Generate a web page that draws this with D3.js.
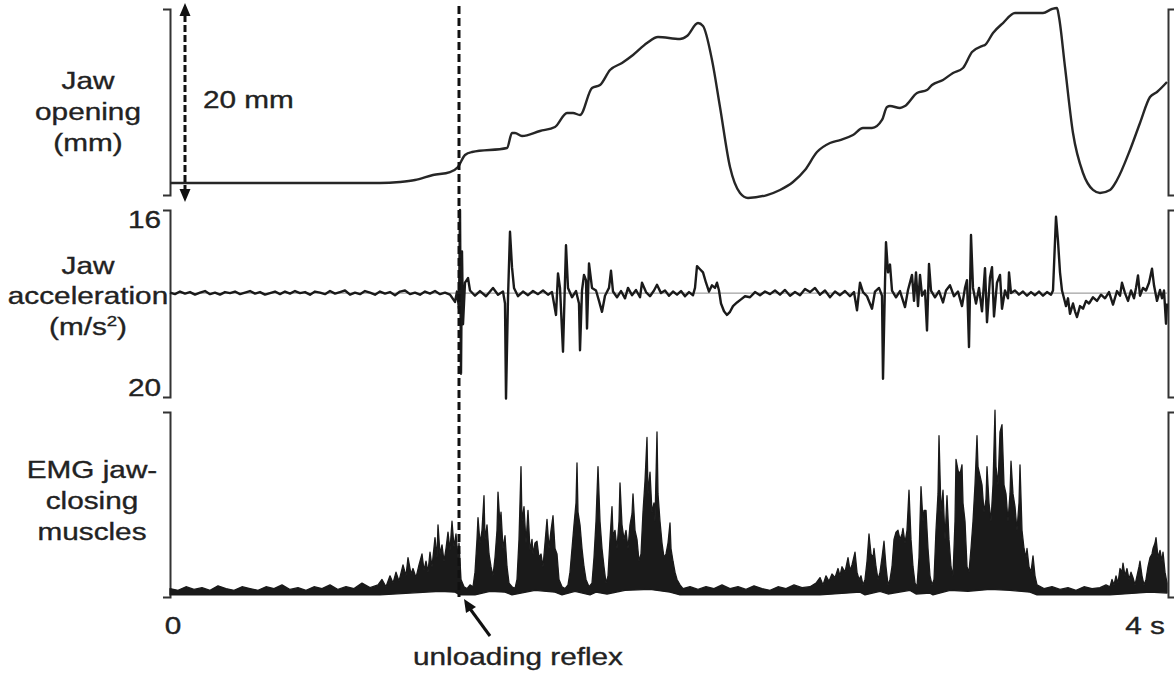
<!DOCTYPE html>
<html>
<head>
<meta charset="utf-8">
<script src="https://cdn.jsdelivr.net/npm/d3@7/dist/d3.min.js"></script>
<style>
  html, body { margin: 0; background: #fff; }
  svg { display: block; }
  text { font-family: "Liberation Sans", Arial, Helvetica, sans-serif; font-size: 24px; fill: #222; stroke: #222; stroke-width: 0.35px; }
</style>
</head>
<body>
<svg id="chart" width="1174" height="675"></svg>
<script>
// jaw opening trace: [time (s), opening (mm)]
const jawOpening = [
  [0, 1.74], [0.84, 1.74], [0.92, 1.85], [0.98, 2.05], [1.052, 2.56], [1.12, 2.87], [1.152, 3.38],
  [1.18, 4.62], [1.208, 4.92], [1.348, 5.33], [1.368, 6.87], [1.38, 6.87], [1.408, 6.56], [1.48, 7.08],
  [1.54, 7.49], [1.588, 8.92], [1.612, 8.92], [1.64, 8.72], [1.688, 11.49], [1.72, 11.79], [1.76, 13.33],
  [1.808, 14.05], [1.852, 14.87], [1.908, 16.10], [1.952, 16.72], [2.04, 16.51], [2.068, 16.82],
  [2.112, 18.15], [2.132, 17.85], [2.168, 14.36], [2.2, 9.54], [2.24, 3.38], [2.28, 0.72], [2.312, 0.21],
  [2.388, 0.51], [2.44, 1.03], [2.492, 1.85], [2.54, 3.08], [2.588, 4.92], [2.64, 5.85], [2.68, 6.15],
  [2.732, 6.67], [2.772, 7.38], [2.808, 7.38], [2.848, 8.21], [2.868, 9.54], [2.88, 9.64], [2.92, 9.44],
  [2.94, 9.64], [2.988, 10.97], [3.028, 11.28], [3.048, 11.79], [3.092, 12.31], [3.132, 13.03],
  [3.172, 13.54], [3.208, 15.18], [3.248, 15.79], [3.26, 15.90], [3.292, 17.13], [3.332, 18.15],
  [3.38, 19.18], [3.492, 19.18], [3.528, 19.59], [3.548, 19.69], [3.556, 18.77], [3.58, 13.64],
  [3.612, 6.87], [3.652, 2.77], [3.692, 1.03], [3.72, 0.72], [3.76, 1.03], [3.788, 2.05], [3.84, 5.13],
  [3.88, 7.90], [3.92, 10.56], [3.948, 11.08], [3.988, 12.10]
];

// jaw acceleration trace: [time (s), m/s2]
const jawAccel = [
  [0, 0.1], [0.02, -0.2], [0.04, 0.3], [0.06, -0.1], [0.08, 0.2], [0.1, -0.3], [0.12, 0.1], [0.14, 0.4],
  [0.16, -0.2], [0.18, 0.1], [0.2, -0.3], [0.22, 0.2], [0.24, 0], [0.26, 0.3], [0.28, -0.2], [0.3, 0.1],
  [0.32, 0.4], [0.34, -0.1], [0.36, 0.2], [0.38, -0.3], [0.4, 0], [0.42, 0.3], [0.44, -0.2], [0.46, 0.3],
  [0.48, -0.1], [0.5, 0.4], [0.52, 0], [0.54, 0.2], [0.56, -0.3], [0.58, 0.3], [0.6, 0.1], [0.62, -0.2],
  [0.64, 0.4], [0.66, -0.1], [0.68, 0.2], [0.7, 0.5], [0.72, -0.3], [0.74, 0.1], [0.76, -0.2], [0.78, 0.4],
  [0.8, 0.1], [0.82, -0.3], [0.84, 0.3], [0.86, -0.1], [0.88, 0.2], [0.9, -0.4], [0.92, 0.3], [0.94, 0.5],
  [0.96, -0.2], [0.98, 0.1], [1.0, -0.3], [1.02, 0.3], [1.04, -0.1], [1.06, 0.4], [1.08, -0.2], [1.1, 0.1],
  [1.12, -0.3], [1.14, -1.7], [1.148, 0.3], [1.156, -3], [1.16, 16], [1.164, -15.5], [1.168, 8],
  [1.172, -6], [1.18, 2], [1.192, 2.9], [1.2, 0.5], [1.22, -0.5], [1.24, 0.4], [1.264, -0.6], [1.292, 1.0],
  [1.312, -0.3], [1.332, 0.3], [1.34, -2], [1.344, -20.3], [1.352, -1], [1.36, 11.8], [1.368, 5],
  [1.376, 1], [1.392, -0.6], [1.412, 0.3], [1.432, -0.4], [1.452, 0.4], [1.472, -0.2], [1.492, 0.5],
  [1.512, -0.3], [1.528, 0.2], [1.544, -4.2], [1.552, 3.8], [1.56, 1], [1.572, -11.3], [1.584, 9.2],
  [1.592, 1], [1.608, -0.8], [1.624, 0.4], [1.636, -2], [1.64, -11], [1.648, 0.5], [1.656, 3.5],
  [1.664, 2.5], [1.668, -6.8], [1.676, 5.7], [1.688, 1], [1.704, 0.5], [1.716, -1.5], [1.728, -3.6],
  [1.74, -0.5], [1.756, 1], [1.764, 4.3], [1.772, 0.3], [1.788, -0.8], [1.804, 0.4], [1.82, -1],
  [1.832, 1], [1.848, -0.4], [1.864, 0.6], [1.88, -0.8], [1.888, 2], [1.904, 0.2], [1.92, -0.6],
  [1.936, 0.5], [1.948, 1.6], [1.964, 0], [1.98, 0.5], [1.996, -0.5], [2.012, 0.3], [2.028, -0.3],
  [2.044, 0.4], [2.06, -0.6], [2.076, 0.2], [2.092, -0.4], [2.1, 1], [2.108, 5.2], [2.12, 4.6],
  [2.132, 4.0], [2.144, 2], [2.156, 0.3], [2.168, 1.5], [2.18, 1.0], [2.188, 2], [2.196, 0.5],
  [2.204, -2], [2.216, -3.5], [2.228, -4.2], [2.24, -3.6], [2.252, -2.5], [2.268, -1.8], [2.284, -1.2],
  [2.3, -0.6], [2.32, -0.8], [2.34, 0.2], [2.36, -0.4], [2.38, 0.3], [2.4, -0.2], [2.42, 0.5],
  [2.44, -0.3], [2.46, 0.6], [2.48, -0.5], [2.5, 0.2], [2.52, -0.4], [2.54, 0.8], [2.56, 0.2], [2.58, 1.0],
  [2.6, -0.3], [2.62, 0.5], [2.64, -0.8], [2.66, 0.3], [2.68, -0.4], [2.7, 0.4], [2.72, -0.6],
  [2.736, 0.2], [2.748, -3.3], [2.76, 2], [2.772, 0.2], [2.788, -0.6], [2.808, -3], [2.82, 0.3],
  [2.836, 1], [2.848, -0.5], [2.852, -16.5], [2.86, 2], [2.864, 9.8], [2.872, 4], [2.88, 5.5],
  [2.888, 0.5], [2.904, -0.8], [2.92, 0.4], [2.94, -2.7], [2.952, 0.6], [2.968, 3.5], [2.976, -1.5],
  [2.984, 4], [2.992, -2.5], [3.0, 3.5], [3.008, -0.5], [3.02, 0.5], [3.028, -7.2], [3.036, 5.6],
  [3.044, 0.5], [3.06, -0.8], [3.076, 0.4], [3.092, -1.8], [3.104, 0.5], [3.12, 1.5], [3.136, -0.6],
  [3.152, 0.3], [3.168, -2.5], [3.18, 1], [3.188, 2.5], [3.196, -10.4], [3.204, 11.2], [3.212, 1],
  [3.224, -2], [3.236, 1], [3.248, -3.5], [3.26, 4.8], [3.268, -5.6], [3.28, 3], [3.288, 5],
  [3.296, -4.5], [3.308, 2], [3.32, 3.5], [3.328, -3], [3.34, 0.5], [3.352, -1], [3.356, 4], [3.364, 0],
  [3.38, 0.5], [3.396, -0.3], [3.412, 0.3], [3.428, -0.5], [3.444, 0.2], [3.46, -0.4], [3.476, 0.3],
  [3.492, -0.5], [3.508, 0.2], [3.524, -0.3], [3.532, 0.5], [3.544, 14.7], [3.552, 10], [3.56, 4],
  [3.568, 0.5], [3.576, -1], [3.584, -2.5], [3.592, -1], [3.6, -4], [3.612, -2], [3.62, -3.5],
  [3.628, -4.6], [3.64, -2.5], [3.652, -3], [3.664, -1.5], [3.676, -2], [3.692, -0.8], [3.708, -1.5],
  [3.724, -0.3], [3.74, -1], [3.756, 0.2], [3.772, -2.2], [3.788, 0.4], [3.8, -0.5], [3.808, 2],
  [3.82, 0], [3.832, -1.5], [3.844, 0.5], [3.856, -1], [3.864, 1], [3.872, 3.4], [3.88, -0.5],
  [3.892, 1], [3.904, 0.5], [3.916, 2], [3.928, 4.7], [3.936, 1.5], [3.948, -1.5], [3.96, 0.6],
  [3.968, -1], [3.976, 0.5], [3.984, -5.9], [3.988, -2]
];

// EMG (jaw-closing muscles), upper edge of the trace: [time (s), % of panel]
const emgUpper = [
  [0, 3], [0.032, 2], [0.064, 4], [0.096, 2.5], [0.128, 3.5], [0.16, 2], [0.192, 4.5], [0.224, 3],
  [0.256, 2], [0.288, 4], [0.32, 3], [0.352, 2], [0.384, 4], [0.416, 3], [0.448, 5], [0.48, 2.5],
  [0.512, 3.5], [0.544, 2], [0.576, 4], [0.608, 3], [0.64, 5], [0.672, 2.5], [0.704, 4], [0.736, 3],
  [0.768, 6], [0.8, 3.5], [0.832, 5], [0.848, 8], [0.864, 4], [0.88, 10], [0.892, 6], [0.904, 12],
  [0.916, 7], [0.932, 16], [0.944, 10], [0.952, 20], [0.964, 11], [0.972, 14], [0.984, 9], [0.996, 16],
  [1.008, 22], [1.016, 13], [1.024, 18], [1.032, 12], [1.04, 23], [1.048, 15], [1.06, 31], [1.068, 20],
  [1.072, 38], [1.08, 22], [1.088, 27], [1.096, 18], [1.104, 25], [1.112, 34], [1.12, 24], [1.128, 40],
  [1.136, 26], [1.144, 33], [1.152, 20], [1.156, 28], [1.164, 8], [1.176, 4], [1.188, 3], [1.2, 5],
  [1.212, 4], [1.22, 12], [1.228, 30], [1.232, 42], [1.24, 28], [1.248, 35], [1.256, 54], [1.26, 30],
  [1.268, 38], [1.276, 22], [1.284, 15], [1.292, 10], [1.3, 20], [1.308, 35], [1.312, 56], [1.32, 38],
  [1.324, 45], [1.332, 25], [1.34, 32], [1.348, 15], [1.356, 6], [1.368, 4], [1.38, 3], [1.388, 8],
  [1.396, 30], [1.404, 70], [1.408, 40], [1.416, 48], [1.424, 28], [1.432, 46], [1.44, 24], [1.448, 30],
  [1.452, 22], [1.46, 28], [1.468, 29], [1.476, 20], [1.484, 22], [1.492, 15], [1.5, 28], [1.508, 41],
  [1.516, 25], [1.524, 35], [1.532, 43], [1.54, 25], [1.548, 22], [1.556, 8], [1.568, 4], [1.58, 3],
  [1.592, 5], [1.6, 12], [1.608, 25], [1.616, 38], [1.624, 50], [1.628, 72], [1.632, 45], [1.64, 38],
  [1.648, 25], [1.656, 15], [1.664, 8], [1.676, 4], [1.688, 6], [1.696, 20], [1.704, 40], [1.712, 70],
  [1.72, 40], [1.728, 25], [1.736, 15], [1.744, 6], [1.752, 10], [1.76, 30], [1.768, 48], [1.772, 32],
  [1.78, 35], [1.788, 25], [1.796, 40], [1.8, 61], [1.808, 38], [1.816, 30], [1.824, 35], [1.832, 25],
  [1.84, 38], [1.848, 44], [1.852, 55], [1.86, 35], [1.868, 30], [1.876, 18], [1.884, 22], [1.892, 45],
  [1.9, 62], [1.908, 86], [1.912, 55], [1.92, 67], [1.928, 45], [1.936, 50], [1.94, 40], [1.948, 89],
  [1.952, 55], [1.96, 40], [1.968, 28], [1.976, 20], [1.984, 22], [1.992, 28], [2.0, 39], [2.004, 25],
  [2.012, 18], [2.02, 12], [2.028, 8], [2.04, 5], [2.052, 3], [2.08, 4], [2.112, 2.5], [2.144, 4],
  [2.176, 3], [2.208, 5], [2.24, 3], [2.272, 4], [2.304, 2.5], [2.336, 4.5], [2.368, 3], [2.4, 2],
  [2.432, 4], [2.464, 3], [2.496, 5], [2.528, 3.5], [2.56, 4], [2.584, 6], [2.6, 9], [2.612, 5],
  [2.624, 10], [2.636, 7], [2.648, 11], [2.66, 9], [2.672, 14], [2.68, 10], [2.688, 15], [2.7, 12],
  [2.712, 20], [2.72, 13], [2.728, 16], [2.74, 23], [2.748, 12], [2.756, 8], [2.764, 10], [2.772, 5],
  [2.78, 8], [2.788, 18], [2.796, 33], [2.804, 22], [2.812, 20], [2.816, 25], [2.824, 15], [2.832, 8],
  [2.84, 12], [2.848, 20], [2.856, 29], [2.864, 15], [2.872, 5], [2.88, 8], [2.888, 15], [2.896, 30],
  [2.904, 34], [2.912, 35], [2.92, 30], [2.928, 33], [2.932, 36], [2.94, 28], [2.948, 35], [2.956, 57],
  [2.964, 30], [2.972, 15], [2.98, 6], [2.988, 4], [2.996, 20], [3.004, 59], [3.012, 40], [3.016, 46],
  [3.024, 46], [3.032, 25], [3.04, 10], [3.048, 5], [3.056, 8], [3.064, 35], [3.072, 55], [3.076, 87],
  [3.084, 45], [3.092, 57], [3.1, 30], [3.108, 54], [3.116, 30], [3.124, 15], [3.132, 10], [3.14, 40],
  [3.144, 74], [3.152, 68], [3.16, 66], [3.168, 71], [3.172, 50], [3.18, 40], [3.188, 15], [3.196, 12],
  [3.204, 25], [3.212, 40], [3.22, 60], [3.228, 87], [3.232, 70], [3.24, 65], [3.248, 60], [3.256, 45],
  [3.264, 52], [3.268, 70], [3.276, 50], [3.284, 40], [3.292, 60], [3.3, 101], [3.304, 70], [3.312, 60],
  [3.32, 89], [3.328, 93], [3.336, 60], [3.344, 55], [3.352, 40], [3.36, 55], [3.364, 73], [3.372, 55],
  [3.38, 48], [3.388, 35], [3.396, 50], [3.4, 71], [3.408, 35], [3.416, 25], [3.424, 20], [3.428, 25],
  [3.436, 15], [3.444, 12], [3.452, 21], [3.46, 10], [3.468, 5], [3.496, 3], [3.528, 4], [3.56, 2.5],
  [3.592, 3.5], [3.624, 2], [3.656, 4], [3.688, 3], [3.72, 3.5], [3.744, 5], [3.76, 4], [3.768, 8],
  [3.776, 5], [3.784, 10], [3.792, 6], [3.8, 14], [3.808, 12], [3.812, 17], [3.82, 10], [3.828, 14],
  [3.836, 8], [3.844, 12], [3.852, 9], [3.86, 5], [3.868, 10], [3.876, 15], [3.88, 18], [3.888, 10],
  [3.896, 5], [3.904, 8], [3.912, 15], [3.92, 20], [3.928, 22], [3.932, 25], [3.94, 28], [3.944, 31],
  [3.952, 20], [3.96, 24], [3.968, 18], [3.972, 23], [3.98, 12], [3.988, 6]
];

// EMG lower edge of the trace: [time (s), % of panel]
const emgLower = [
  [0, -0.5], [0.84, -0.5], [0.96, 0.5], [1.08, 1.5], [1.14, 1], [1.16, -0.5], [1.22, -0.5], [1.28, 1.5],
  [1.34, 1], [1.368, -0.5], [1.46, 2], [1.54, 1], [1.568, -0.5], [1.62, 1.5], [1.68, -0.5], [1.704, 1],
  [1.748, 0], [1.82, 2], [1.92, 2.5], [2.0, 1], [2.04, -0.5], [2.6, -0.5], [2.76, 1], [2.78, -0.5],
  [2.84, 1.5], [2.872, 0], [2.96, 2], [2.984, 0], [3.04, 0.5], [3.052, -0.5], [3.12, 2], [3.192, 1.5],
  [3.28, 2.5], [3.36, 2], [3.44, 1], [3.468, -0.5], [3.76, -0.5], [3.92, 1], [3.988, 0.5]
];

const unloadingTime = 1.156;
const jawLabel = ["Jaw", "opening", "(mm)"];
const accLabel = ["Jaw", "acceleration", "(m/s", "2", ")"];
const emgLabel = ["EMG jaw-", "closing", "muscles"];
const accTicks = [16, -20];
const timeTicks = ["0", "4 s"];
const scaleBarText = "20 mm";
const annotationText = "unloading reflex";

const SX = 1.24; // the figure's type is set wide
const ink = "#1a1a1a";
let svg = d3.select("#chart");

let x = d3.scaleLinear().domain([0, 4]).range([170, 1170]);
let yJaw = d3.scaleLinear().domain([0, 20]).range([200, 5]);
let yAcc = d3.scaleLinear().domain([-20, 16]).range([397, 210]);
let yEmg = d3.scaleLinear().domain([0, 100]).range([594, 412]);

// panel extents used for the bracket axes
let panels = [
  { top: 9, bottom: 195 },
  { top: 210, bottom: 397 },
  { top: 412, bottom: 597 }
];

function wideText (g, px, py, str, anchor) {
  return g.append("text")
    .attr("transform", `translate(${px},${py}) scale(${SX},1)`)
    .attr("text-anchor", anchor || "middle")
    .text(str);
}

// brackets on both sides of each panel
panels.forEach(p => {
  let s = d3.scaleLinear().range([p.top, p.bottom]);
  let left = svg.append("g").attr("transform", "translate(170,0)")
    .call(d3.axisLeft(s).tickValues([]).tickSizeOuter(7));
  let right = svg.append("g").attr("transform", "translate(1168,0)")
    .call(d3.axisRight(s).tickValues([]).tickSizeOuter(7));
  [left, right].forEach(a => a.select(".domain").attr("stroke", "#333").attr("stroke-width", 2));
});

// zero line of the acceleration panel
svg.append("line")
  .attr("x1", x(0)).attr("x2", x(3.99))
  .attr("y1", yAcc(0)).attr("y2", yAcc(0))
  .attr("stroke", "#8a8a8a").attr("stroke-width", 1);

// jaw opening
svg.append("path")
  .datum(jawOpening)
  .attr("fill", "none").attr("stroke", "#262626").attr("stroke-width", 2.4)
  .attr("stroke-linejoin", "round")
  .attr("d", d3.line().curve(d3.curveMonotoneX).x(d => x(d[0])).y(d => yJaw(d[1])));

// jaw acceleration
svg.append("path")
  .datum(jawAccel)
  .attr("fill", "none").attr("stroke", ink).attr("stroke-width", 2.4)
  .attr("stroke-linejoin", "round")
  .attr("d", d3.line().x(d => x(d[0])).y(d => yAcc(d[1])));

// EMG as a filled band between its lower and upper edges
let emgBand = emgUpper.concat(emgLower.slice().reverse());
svg.append("path")
  .datum(emgBand)
  .attr("fill", ink).attr("stroke", ink).attr("stroke-width", 1.3)
  .attr("stroke-linejoin", "round")
  .attr("d", d => d3.line().x(p => x(p[0])).y(p => yEmg(p[1]))(d) + "Z");

// dashed line at the unloading reflex
svg.append("line")
  .attr("x1", x(unloadingTime)).attr("x2", x(unloadingTime))
  .attr("y1", 6).attr("y2", yEmg(0) + 3)
  .attr("stroke", "#111").attr("stroke-width", 3).attr("stroke-dasharray", "8,4");

// 20 mm scale arrow
let arrowX = 185;
svg.append("line")
  .attr("x1", arrowX).attr("x2", arrowX)
  .attr("y1", yJaw(20) + 10).attr("y2", yJaw(0) - 10)
  .attr("stroke", "#111").attr("stroke-width", 3).attr("stroke-dasharray", "7,3");
svg.append("path")
  .attr("fill", "#111")
  .attr("d", `M${arrowX},${yJaw(20) - 2}l-5.5,13h11Z M${arrowX},${yJaw(0) + 2}l-5.5,-13h11Z`);
wideText(svg, 203, 108, scaleBarText, "start");

// row labels
let labelX = 88;
jawLabel.forEach((t, i) => {
  wideText(svg, labelX, 89 + i * 31, t);
});
wideText(svg, labelX, 274, accLabel[0]);
wideText(svg, labelX, 304, accLabel[1]);
let unit = svg.append("text")
  .attr("transform", `translate(${labelX},335) scale(${SX},1)`)
  .attr("text-anchor", "middle");
unit.append("tspan").text(accLabel[2]);
unit.append("tspan").attr("dy", -9).attr("font-size", 15).text(accLabel[3]);
unit.append("tspan").attr("dy", 9).text(accLabel[4]);
emgLabel.forEach((t, i) => {
  wideText(svg, labelX + 4, 478 + i * 31, t);
});

// acceleration tick labels (shown without sign, as in the figure)
wideText(svg, 161, yAcc(accTicks[0]) + 18, String(Math.abs(accTicks[0])), "end");
wideText(svg, 161, yAcc(accTicks[1]) - 1, String(Math.abs(accTicks[1])), "end");

// time labels
wideText(svg, x(0) + 3, 634, timeTicks[0]);
wideText(svg, x(4) - 5, 634, timeTicks[1], "end");

// unloading reflex annotation
svg.append("line")
  .attr("x1", 490).attr("y1", 636)
  .attr("x2", x(unloadingTime) + 9).attr("y2", yEmg(0) + 12)
  .attr("stroke", "#111").attr("stroke-width", 3);
let tip = [x(unloadingTime) + 5, yEmg(0) + 5];
svg.append("path")
  .attr("fill", "#111")
  .attr("d", `M${tip[0]},${tip[1]}L${tip[0] + 12},${tip[1] + 8}L${tip[0] + 2},${tip[1] + 14}Z`);
wideText(svg, 518, 665, annotationText);
</script>
</body>
</html>
